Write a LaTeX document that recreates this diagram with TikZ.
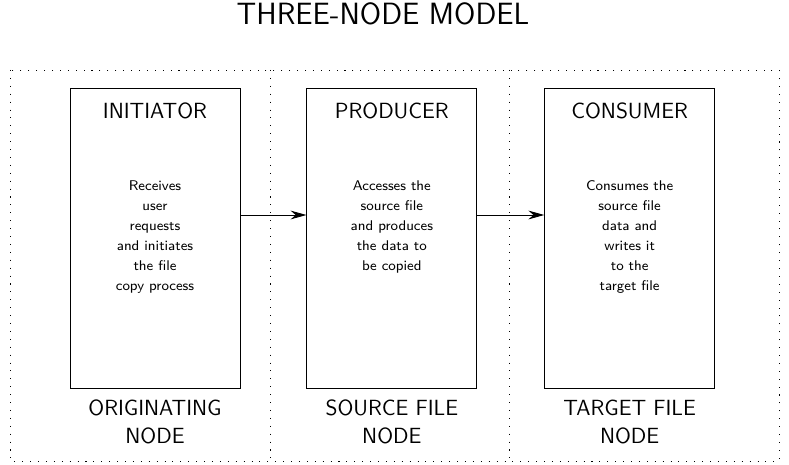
\documentclass[tikz,border=0pt]{standalone}
\usepackage{fontspec}
\usepackage{tikz}
\usetikzlibrary{arrows.meta,positioning}

\begin{document}
\begin{tikzpicture}[x=0.02cm,y=-0.02cm,line width=.5pt,node distance=1.32cm,
	procbox/.style={draw,minimum width=3.4cm,minimum height=6cm,inner sep=0},
	headtxt/.style={inner sep=0,font=\sffamily\fontsize{12.5}{16}\selectfont},
	bodytxt/.style={inner sep=0,align=center,font=\sffamily\fontsize{8}{11.3}\selectfont},
	sitetxt/.style={inner sep=0,align=center,font=\sffamily\fontsize{12.5}{15.8}\selectfont},
	zone/.style={dash pattern=on .6pt off 3.9pt},
	flow/.style={-{Stealth[length=9pt,width=5pt]}}]
		\useasboundingbox (0,0) rectangle (789,465);
		\node[font=\sffamily\fontsize{17.5}{20}\selectfont] (title) at (383,14) {THREE-NODE MODEL};
		% sites
		\draw[zone] (10,70) rectangle (779,461);
		\draw[zone] (270,70) -- (270,461);
		\draw[zone] (509,70) -- (509,461);
		% processes
		\node[procbox] (init) at (155,238) {};
		\node[procbox] (prod) [right=1.32cm of init] {};
		\node[procbox] (cons) [right=1.34cm of prod] {};
		\node[headtxt] (initname) [below=.3cm of init.north] {INITIATOR};
		\node[headtxt] (prodname) [below=.3cm of prod.north] {PRODUCER};
		\node[headtxt] (consname) [below=.3cm of cons.north] {CONSUMER};
		\node[bodytxt] (initjob) [below=1.86cm of init.north] {Receives\\user\\requests\\and initiates\\the file\\copy process};
		\node[bodytxt] (prodjob) [below=1.86cm of prod.north] {Accesses the\\source file\\and produces\\the data to\\be copied};
		\node[bodytxt] (consjob) [below=1.86cm of cons.north] {Consumes the\\source file\\data and\\writes it\\to the\\target file};
		\node[sitetxt] (initsite) [below=.22cm of init.south] {ORIGINATING\\NODE};
		\node[sitetxt] (prodsite) [below=.22cm of prod.south] {SOURCE FILE\\NODE};
		\node[sitetxt] (conssite) [below=.22cm of cons.south] {TARGET FILE\\NODE};
		\draw[flow] ([yshift=.46cm]init.east) -- ([yshift=.46cm]prod.west);
		\draw[flow] ([yshift=.46cm]prod.east) -- ([yshift=.46cm]cons.west);
	\end{tikzpicture}
\end{document}
